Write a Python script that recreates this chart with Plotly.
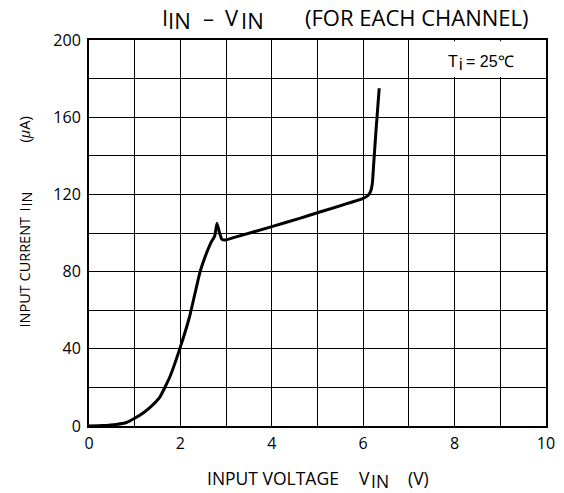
import plotly.graph_objects as go

# Data
v_in = [0, 0.3, 0.6, 0.82, 1.0, 1.2, 1.33, 1.55, 1.77, 2.0, 2.2, 2.42, 2.49, 2.57,
        2.68, 2.75, 2.80, 2.86, 2.91, 2.99, 3.22, 4.0, 4.61, 5.0, 6.0, 6.1, 6.16,
        6.2, 6.23, 6.28, 6.35]
i_in = [0, 0.2, 0.8, 1.8, 4, 7, 9.5, 15, 25.5, 41, 56.6, 79, 84.3, 89.5,
        95.5, 98.3, 105, 99.8, 96.7, 96.4, 98, 103.3, 107.6, 110.5, 118, 119.3, 121.4,
        125.7, 136, 153, 175]

x_ticks = [0, 2, 4, 6, 8, 10]
y_ticks = [0, 40, 80, 120, 160, 200]

FONT = "Open Sans"
W, H = 564, 493
L, R, T, B = 89, 546, 40, 426  # plot area in window pixels


def P(px, py):
    return (px - L) / (R - L), (B - py) / (B - T)


fig = go.Figure()
fig.add_trace(go.Scatter(x=v_in, y=i_in, mode="lines",
                         line=dict(color="black", width=3, shape="spline", smoothing=0.4),
                         hoverinfo="skip", showlegend=False))

axis_common = dict(showline=True, linecolor="black", linewidth=2, mirror=True,
                   showgrid=True, gridcolor="black", gridwidth=1.3, zeroline=False,
                   automargin=False,
                   ticks="", tickfont=dict(family=FONT, size=16, color="black"))

fig.update_xaxes(range=[0, 10], tickvals=x_ticks,
                 minor=dict(dtick=1, showgrid=True, gridcolor="black", gridwidth=1.3),
                 ticklabelstandoff=2, **axis_common)
fig.update_yaxes(range=[0, 200], tickvals=y_ticks,
                 minor=dict(dtick=20, showgrid=True, gridcolor="black", gridwidth=1.3),
                 ticklabelstandoff=3, **axis_common)

# white box behind the temperature label (covers grid)
fig.add_shape(type="rect", xref="x", yref="y", x0=7.55, x1=9.97, y0=180.8, y1=199.4,
              fillcolor="white", line=dict(width=0), layer="between")


def txt(text, px, py, size, family=FONT, angle=0):
    x, y = P(px, py)
    fig.add_annotation(text=text, x=x, y=y, xref="paper", yref="paper",
                       showarrow=False, xanchor="center", yanchor="middle",
                       textangle=angle,
                       font=dict(family=family, size=size, color="black"))


# title
txt("I", 164.5, 17, 22)
txt("IN", 179, 20, 22)
txt("–", 208, 17, 22)
txt("V", 231.5, 17, 22)
txt("IN", 252.5, 20, 22)
txt("(FOR EACH CHANNEL)", 416.5, 17, 22)

# temperature label
txt("T", 453, 62, 16, "Liberation Sans")
txt("i", 460.5, 64, 16, "Liberation Sans")
txt("= 25℃", 490, 62, 16, "Liberation Sans")

# x axis title
txt("INPUT VOLTAGE", 273, 478, 17.5)
txt("V", 364.5, 478, 17.5)
txt("IN", 380, 481, 17.5)
txt("(V)", 418.5, 478, 17.5)

# y axis title
txt("INPUT CURRENT", 23.5, 272, 14.5, angle=-90)
txt("I", 23.5, 210, 14.5, angle=-90)
txt("IN", 25.5, 199, 14.5, angle=-90)
txt("(<i>μ</i>A)", 23.5, 130, 14.5, angle=-90)

fig.update_layout(width=W, height=H,
                  margin=dict(l=L, r=W - R, t=T, b=H - B, autoexpand=False),
                  plot_bgcolor="white", paper_bgcolor="white")

fig.write_html("out.html", config={"displayModeBar": False},
               post_script="document.body.style.margin='0';document.body.style.overflow='hidden';")
